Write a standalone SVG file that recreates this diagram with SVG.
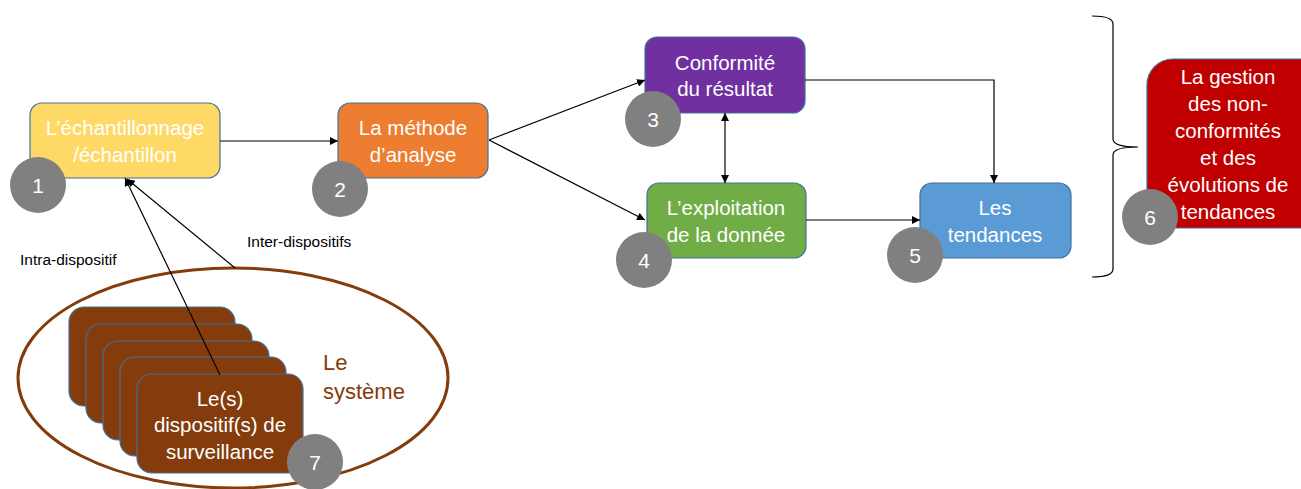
<svg xmlns="http://www.w3.org/2000/svg" width="1301" height="489" viewBox="0 0 1301 489">
<style>
.box{stroke:#41719C;stroke-width:1.2}
.t{font-family:"Liberation Sans",Arial,sans-serif;font-size:20.5px;fill:#fff;text-anchor:middle}
.num{fill:#808080}
.nt{font-family:"Liberation Sans",Arial,sans-serif;font-size:21px;fill:#fff;text-anchor:middle}
.lbl{font-family:"Liberation Sans",Arial,sans-serif;font-size:15.5px;fill:#000}
.c{fill:none;stroke:#000;stroke-width:1.2}
.card{fill:#843C0C;stroke:#41719C;stroke-width:1.2}
</style>
<defs>
<marker id="ah" viewBox="0 0 10 10" refX="10" refY="5" markerWidth="8" markerHeight="8" markerUnits="userSpaceOnUse" orient="auto-start-reverse">
<path d="M0,0 L10,5 L0,10 z" fill="#000"/>
</marker>
</defs>
<rect width="1301" height="489" fill="#fff"/>

<g id="systeme">
<ellipse cx="233" cy="378" rx="215" ry="110" fill="none" stroke="#843C0C" stroke-width="3"/>
<text x="323" y="370" font-family="Liberation Sans,Arial,sans-serif" font-size="22" fill="#843C0C">Le</text>
<text x="323" y="399" font-family="Liberation Sans,Arial,sans-serif" font-size="22" fill="#843C0C">système</text>
</g>

<g id="node7">
<rect class="card" x="69" y="307" width="166" height="99" rx="15"/>
<rect class="card" x="86" y="324" width="166" height="99" rx="15"/>
<rect class="card" x="103" y="341" width="166" height="99" rx="15"/>
<rect class="card" x="120" y="357" width="166" height="99" rx="15"/>
<rect class="card" x="137" y="374" width="166" height="99" rx="15"/>
<text class="t" x="220" y="406">Le(s)</text>
<text class="t" x="220" y="432">dispositif(s) de</text>
<text class="t" x="220" y="459">surveillance</text>
</g>

<g id="node1">
<rect class="box" x="30" y="103" width="190" height="75" rx="12" fill="#FFD966"/>
<text class="t" x="125" y="135">L’échantillonnage</text>
<text class="t" x="125" y="162">/échantillon</text>
</g>

<g id="node2">
<rect class="box" x="338" y="103" width="150" height="75" rx="12" fill="#ED7D31"/>
<text class="t" x="413" y="135">La méthode</text>
<text class="t" x="413" y="162">d’analyse</text>
</g>

<g id="node3">
<rect class="box" x="645" y="37" width="160" height="76" rx="12" fill="#7030A0"/>
<text class="t" x="725" y="70">Conformité</text>
<text class="t" x="725" y="96">du résultat</text>
</g>

<g id="node4">
<rect class="box" x="647" y="183" width="159" height="75" rx="12" fill="#70AD47"/>
<text class="t" x="726" y="215">L’exploitation</text>
<text class="t" x="726" y="242">de la donnée</text>
</g>

<g id="node5">
<rect class="box" x="920" y="183" width="151" height="75" rx="12" fill="#5B9BD5"/>
<text class="t" x="995" y="215">Les</text>
<text class="t" x="995" y="242">tendances</text>
</g>

<g id="node6">
<rect class="box" x="1147" y="59" width="180" height="169" rx="26" fill="#C00000"/>
<text class="t" x="1228" y="84">La gestion</text>
<text class="t" x="1228" y="111">des non-</text>
<text class="t" x="1228" y="138">conformités</text>
<text class="t" x="1228" y="165">et des</text>
<text class="t" x="1228" y="192">évolutions de</text>
<text class="t" x="1228" y="219">tendances</text>
</g>

<g id="brace">
<path d="M1092,16 Q1113,16 1113,24 L1113,139 Q1113,147 1138,147 Q1113,147 1113,155 L1113,269 Q1113,277 1092,277" fill="none" stroke="#000" stroke-width="1.2"/>
</g>

<g id="connectors">
<line class="c" x1="220" y1="141" x2="338" y2="141" marker-end="url(#ah)"/>
<line class="c" x1="489" y1="140" x2="645" y2="80" marker-end="url(#ah)"/>
<line class="c" x1="489" y1="140" x2="645" y2="220" marker-end="url(#ah)"/>
<line class="c" x1="725" y1="113" x2="725" y2="183" marker-start="url(#ah)" marker-end="url(#ah)"/>
<polyline class="c" points="805,80 994,80 994,183" marker-end="url(#ah)"/>
<line class="c" x1="806" y1="220" x2="920" y2="220" marker-end="url(#ah)"/>
<line class="c" x1="220" y1="375" x2="125" y2="178" marker-end="url(#ah)"/>
<line class="c" x1="235" y1="268" x2="127" y2="179" marker-end="url(#ah)"/>
<text class="lbl" x="20" y="265">Intra-dispositif</text>
<text class="lbl" x="247" y="247">Inter-dispositifs</text>
</g>

<g id="badges">
<circle class="num" cx="38" cy="185" r="28"/><text class="nt" x="38" y="193">1</text>
<circle class="num" cx="340" cy="189" r="28"/><text class="nt" x="340" y="197">2</text>
<circle class="num" cx="653" cy="119" r="28"/><text class="nt" x="653" y="127">3</text>
<circle class="num" cx="644" cy="260" r="28"/><text class="nt" x="644" y="268">4</text>
<circle class="num" cx="915" cy="255" r="28"/><text class="nt" x="915" y="263">5</text>
<circle class="num" cx="1150" cy="217" r="28"/><text class="nt" x="1150" y="225">6</text>
<circle class="num" cx="315" cy="462" r="28"/><text class="nt" x="315" y="470">7</text>
</g>
</svg>
